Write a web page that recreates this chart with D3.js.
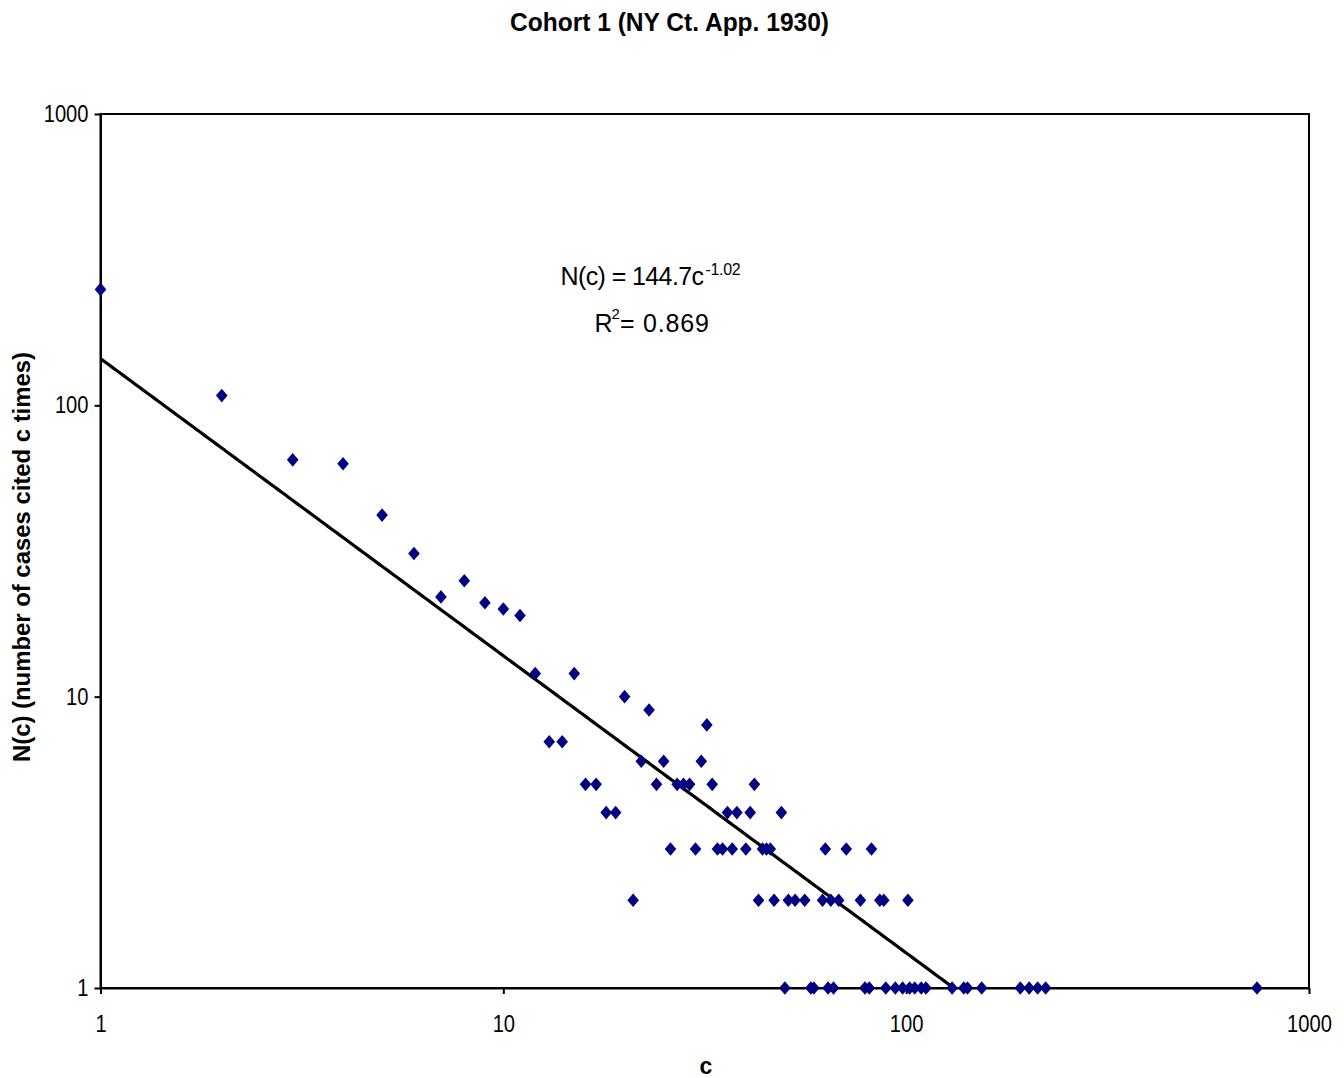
<!DOCTYPE html>
<html>
<head>
<meta charset="utf-8">
<script src="https://cdn.jsdelivr.net/npm/d3@7"></script>
<style>
  html, body { margin: 0; padding: 0; background: #ffffff; }
  svg { display: block; }
</style>
</head>
<body>
<svg id="chart" width="1344" height="1078"></svg>
<script>
// ---- data ----
const citeCounts = [1, 2, 3, 4, 5, 6, 7, 8, 9, 10, 11, 12, 13, 14, 15, 16, 17, 18, 19, 20,
  21, 22, 23, 24, 25, 26, 27, 28, 29, 30, 31, 32, 33, 34, 35, 36, 37, 38, 40, 41,
  42, 43, 44, 45, 46, 47, 49, 50, 51, 53, 56, 58, 59, 62, 63, 64, 65, 66, 68, 71,
  77, 79, 81, 82, 86, 88, 89, 94, 98, 101, 102, 105, 109, 112, 130, 139, 142, 154,
  192, 202, 212, 222, 743];
const caseCounts = [250, 108, 65, 63, 42, 31, 22, 25, 21, 20, 19, 12, 7, 7, 12, 5, 5, 4, 4, 10,
  2, 6, 9, 5, 6, 3, 5, 5, 5, 3, 6, 8, 5, 3, 3, 4, 3, 4, 3, 4,
  5, 2, 3, 3, 3, 2, 4, 1, 2, 2, 2, 1, 1, 2, 3, 1, 2, 1, 2, 3,
  2, 1, 1, 3, 2, 2, 1, 1, 1, 2, 1, 1, 1, 1, 1, 1, 1, 1,
  1, 1, 1, 1, 1];
const axisTicks = [1, 10, 100, 1000];
const trendCoef = 144.7;
const trendExp = -1.02;
const rSquared = 0.869;
const titleText = "Cohort 1 (NY Ct. App. 1930)";
const xTitle = "c";
const yTitle = "N(c) (number of cases cited c times)";

// ---- layout ----
const FONT = "'Liberation Sans', Arial, sans-serif";
const L = 100.5, R = 1309, T = 114, B = 988;
const svg = d3.select("#chart");

const x = d3.scaleLog().domain([1, 1000]).range([L, R]);
const y = d3.scaleLog().domain([1, 1000]).range([B, T]);

svg.append("defs").append("clipPath").attr("id", "plotclip")
  .append("rect").attr("x", L).attr("y", T - 8).attr("width", R - L).attr("height", B - T + 8);

// frame
svg.append("rect").attr("x", L).attr("y", T).attr("width", R - L).attr("height", B - T)
  .attr("fill", "none").attr("stroke", "#000").attr("stroke-width", 2);

// axes
const xAxis = d3.axisBottom(x).tickValues(axisTicks).tickFormat(d3.format("d"))
  .tickSizeInner(6).tickSizeOuter(0).tickPadding(22);
const yAxis = d3.axisLeft(y).tickValues(axisTicks).tickFormat(d3.format("d"))
  .tickSizeInner(6).tickSizeOuter(0).tickPadding(6);

const gx = svg.append("g").attr("transform", `translate(0,${B})`).call(xAxis);
const gy = svg.append("g").attr("transform", `translate(${L},0)`).call(yAxis);
[gx, gy].forEach(g => {
  g.select(".domain").attr("stroke", "#000").attr("stroke-width", 2);
  g.selectAll(".tick line").attr("stroke", "#000").attr("stroke-width", 2);
  g.selectAll(".tick text").attr("fill", "#000").style("font-family", FONT)
    .style("font-size", "23px")
    .attr("textLength", d => String(d).length * 11.2)
    .attr("lengthAdjust", "spacingAndGlyphs");
});

// trend line
const trendPts = d3.range(0, 301).map(i => {
  const c = Math.pow(10, Math.log10(743) * i / 300);
  return [c, trendCoef * Math.pow(c, trendExp)];
});
svg.append("path").datum(trendPts)
  .attr("clip-path", "url(#plotclip)")
  .attr("fill", "none").attr("stroke", "#000").attr("stroke-width", 3.2)
  .attr("d", d3.line().x(d => x(d[0])).y(d => y(Math.max(d[1], 0.5))));

// points
const pts = citeCounts.map((c, i) => ({ c, n: caseCounts[i] }));
const hw = 5.8, hh = 6.8;
svg.append("g").selectAll("path").data(pts).join("path")
  .attr("d", d => {
    const px = x(d.c), py = y(d.n);
    return `M${px},${py - hh}L${px + hw},${py}L${px},${py + hh}L${px - hw},${py}Z`;
  })
  .attr("fill", "#000080");

// title
svg.append("text").attr("x", 669.5).attr("y", 31).attr("text-anchor", "middle")
  .style("font-family", FONT).style("font-weight", "bold").style("font-size", "25px")
  .attr("textLength", 319).attr("lengthAdjust", "spacingAndGlyphs")
  .text(titleText);

// axis titles
svg.append("text").attr("x", 706).attr("y", 1074).attr("text-anchor", "middle")
  .style("font-family", FONT).style("font-weight", "bold").style("font-size", "23px")
  .text(xTitle);
svg.append("text").attr("transform", "translate(30,557) rotate(-90)").attr("text-anchor", "middle")
  .style("font-family", FONT).style("font-weight", "bold").style("font-size", "23px")
  .attr("textLength", 410).attr("lengthAdjust", "spacingAndGlyphs")
  .text(yTitle);

// equation: inline tspans flowing in one text element per line
const line1 = svg.append("text").attr("x", 560.5).attr("y", 285)
  .style("font-family", FONT).style("font-size", "25px");
line1.append("tspan").style("letter-spacing", "-0.6px").text(`N(c) = ${trendCoef}c`);
line1.append("tspan").attr("dx", 2).attr("dy", -10).style("font-size", "16px")
  .style("letter-spacing", "-0.3px").text(`${trendExp}`);

const line2 = svg.append("text").attr("x", 594.5).attr("y", 332)
  .style("font-family", FONT).style("font-size", "25px");
line2.append("tspan").style("letter-spacing", "-1px").text("R");
line2.append("tspan").attr("dy", -13).style("font-size", "15px").text("2");
line2.append("tspan").attr("dy", 13).style("letter-spacing", "0.8px").text(`= ${rSquared}`);
</script>
</body>
</html>
